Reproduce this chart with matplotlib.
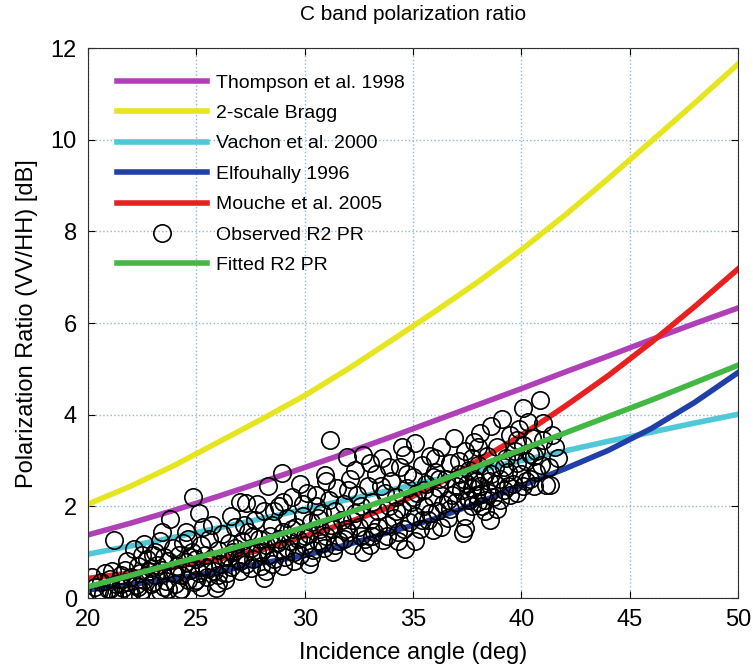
import matplotlib
matplotlib.use('Agg')
import matplotlib.pyplot as plt
import numpy as np

plt.rcParams['font.family'] = ['Liberation Sans', 'DejaVu Sans']

# model curves, every 2 deg
angle = [20, 22, 24, 26, 28, 30, 32, 34, 36, 38, 40, 42, 44, 46, 48, 50]
thompson = [1.38, 1.64, 1.92, 2.22, 2.53, 2.85, 3.18, 3.52, 3.87, 4.22, 4.57, 4.93, 5.28, 5.64, 5.99, 6.33]
bragg = [2.05, 2.45, 2.90, 3.40, 3.90, 4.42, 5.00, 5.62, 6.25, 6.90, 7.60, 8.35, 9.15, 9.97, 10.80, 11.65]
vachon = [0.96, 1.14, 1.33, 1.53, 1.73, 1.94, 2.15, 2.36, 2.58, 2.79, 3.00, 3.21, 3.42, 3.62, 3.82, 4.01]
elfouhally = [0.18, 0.30, 0.42, 0.58, 0.76, 0.93, 1.17, 1.45, 1.73, 2.08, 2.45, 2.82, 3.22, 3.70, 4.27, 4.92]
mouche = [0.43, 0.55, 0.68, 0.85, 1.05, 1.35, 1.65, 2.00, 2.45, 3.00, 3.55, 4.18, 4.85, 5.58, 6.36, 7.18]
fitted = [0.25, 0.50, 0.76, 1.00, 1.27, 1.55, 1.86, 2.18, 2.52, 2.88, 3.24, 3.60, 3.96, 4.32, 4.70, 5.08]

# observed R2 polarization ratio (circles)
obs_angle = [
    20.3, 20.5, 20.6, 20.8, 20.9, 21.0, 21.2, 21.3, 21.2, 21.4, 21.5, 21.6, 21.7, 21.8, 21.9,
    22.0, 22.1, 22.2, 22.3, 22.4, 22.5, 22.6, 22.6, 22.7, 22.8, 22.9, 23.0, 23.1, 23.1, 23.2,
    23.3, 23.4, 23.5, 23.6, 23.7, 23.8, 23.9, 23.9,
    24.0, 24.1, 24.2, 24.3, 24.4, 24.5, 24.5, 24.6, 24.7, 24.8, 24.86, 24.9, 25.0, 25.1, 25.1,
    25.2, 25.3, 25.4, 25.5, 25.6, 25.7, 25.8, 25.9, 26.0, 26.0,
    26.1, 26.2, 26.3, 26.4, 26.5, 26.6, 26.7, 26.8, 26.9, 27.0, 27.0, 27.1, 27.2, 27.3, 27.3,
    27.4, 27.5, 27.6, 27.7, 27.8, 27.9, 28.0, 28.1, 28.1, 28.2,
    28.3, 28.3, 28.4, 28.5, 28.6, 28.7, 28.8, 28.9, 28.94, 29.0, 29.1, 29.2, 29.3, 29.4, 29.5,
    29.6, 29.7, 29.78, 29.8, 29.9, 30.0, 30.1, 30.2, 30.3, 30.4, 30.5, 30.6, 30.7, 30.8, 30.9, 30.94,
    31.0, 31.1, 31.17, 31.2, 31.3, 31.4, 31.5, 31.6, 31.7, 31.8, 31.94, 32.0, 32.1, 32.2, 32.3,
    32.4, 32.5, 32.6, 32.71, 32.8, 32.9, 33.0, 33.1, 33.2, 33.3, 33.4, 33.56, 33.6, 33.7, 33.8, 33.9,
    34.0, 34.1, 34.2, 34.3, 34.4, 34.5, 34.63, 34.63, 34.7, 34.8, 34.9, 35.0, 35.1, 35.1, 35.2,
    35.3, 35.4, 35.5, 35.6, 35.7, 35.8, 35.9, 35.94, 36.0, 36.1, 36.2, 36.3, 36.4, 36.5, 36.6,
    36.7, 36.8, 36.9,
    37.0, 37.1, 37.2, 37.3, 37.4, 37.4, 37.5, 37.5, 37.6, 37.7, 37.7, 37.8, 37.8, 37.9, 38.0,
    38.0, 38.1, 38.1, 38.2, 38.3, 38.3, 38.4, 38.5, 38.55, 38.6, 38.7, 38.8, 38.9, 39.0, 39.1,
    39.2, 39.3, 39.4, 39.5, 39.6, 39.7, 39.8, 39.9, 40.0, 40.09, 40.1, 40.2, 40.3, 40.4, 40.5,
    40.6, 40.7, 40.86, 40.9, 41.01, 41.16, 41.32, 41.4, 41.55, 41.7,
    21.0, 21.5, 22.0, 22.3, 23.0, 23.5, 24.0, 24.3, 25.0, 25.5, 26.0, 26.5, 27.0, 27.5, 28.0,
    28.5, 28.8, 29.2, 29.5, 30.0, 30.3, 30.8, 31.3, 31.8, 32.2, 32.6, 33.0, 33.4, 33.8, 34.2,
    34.6, 35.0, 35.4, 35.8, 36.2, 36.6, 37.0, 37.3, 37.6, 37.9, 38.2, 38.5, 38.8, 39.0, 39.4,
    39.8, 40.2, 40.6,
    20.2, 20.7, 21.1, 21.8, 22.4, 22.9, 23.3, 23.7, 24.2, 24.7, 25.2, 25.7, 26.3, 26.8, 27.2,
    27.6, 28.2, 28.6, 29.0, 29.4, 29.9, 30.2, 30.6, 31.0, 31.4, 31.9, 32.3, 32.7, 33.1, 33.5,
    33.9, 34.3, 34.7, 35.1, 35.5, 35.9, 36.3, 36.7, 37.1, 37.4, 37.7, 38.0, 38.3, 38.6, 38.9,
    39.2, 39.5, 39.8, 40.1, 40.4, 40.7, 41.0, 41.3, 36.0, 34.5, 33.0, 32.0, 30.5, 29.0, 27.8,
    26.6, 25.3, 24.6, 23.4, 22.5,
]
obs_pr = [
    0.25, 0.15, 0.35, 0.55, 0.20, 0.42, 0.10, 0.30, 1.27, 0.05, 0.50, 0.22, 0.62, 0.35, 0.12,
    0.45, 1.08, 0.28, 0.70, 0.55, 0.18, 1.19, 0.40, 0.85, 0.60, 0.30, 0.95, 1.01, 0.50, 0.72,
    0.15, 0.62, 0.90, 0.38, 0.80, 1.72, 0.55, 1.10,
    0.30, 0.70, 0.95, 0.50, 1.20, 1.45, 0.78, 0.40, 0.62, 1.00, 2.21, 0.35, 0.85, 1.85, 0.55,
    1.15, 0.70, 0.95, 0.45, 1.30, 0.80, 0.60, 0.21, 0.32, 1.05,
    0.75, 1.40, 0.90, 0.55, 1.20, 0.68, 1.00, 1.55, 0.85, 2.10, 0.60, 1.25, 0.95, 2.07, 0.75,
    1.45, 1.10, 0.85, 1.70, 1.00, 1.30, 0.70, 0.43, 1.90, 1.15,
    2.44, 0.95, 1.35, 1.60, 0.85, 1.20, 2.00, 1.05, 2.72, 1.45, 0.90, 1.75, 1.25, 2.20, 1.00,
    1.55, 1.30, 2.50, 0.95, 1.80, 1.15, 2.30, 1.40, 1.65, 1.05, 2.00, 1.25, 1.50, 1.85, 1.10, 2.68,
    1.35, 2.15, 3.45, 1.60, 1.00, 1.90, 2.40, 1.25, 1.70, 2.05, 3.08, 1.45, 2.60, 1.15, 1.85,
    2.25, 1.55, 2.00, 3.12, 1.30, 2.45, 1.70, 2.10, 1.45, 2.70, 1.90, 3.05, 1.27, 2.30, 1.60, 2.00,
    2.55, 1.75, 2.20, 1.45, 2.85, 1.95, 1.08, 3.12, 2.40, 1.65, 2.10, 2.65, 3.38, 1.80, 2.30,
    1.50, 2.90, 2.00, 2.50, 1.70, 3.10, 2.20, 1.48, 2.75, 1.90, 2.40, 3.30, 2.05, 2.60, 1.75,
    2.95, 2.25, 3.50,
    2.10, 2.70, 2.35, 1.41, 1.52, 3.20, 2.50, 2.20, 2.80, 2.00, 2.40, 3.40, 2.60, 2.25, 2.90,
    2.10, 2.45, 3.60, 2.30, 2.70, 1.90, 3.10, 2.55, 1.70, 3.75, 2.20, 2.85, 3.30, 2.60, 3.90,
    2.35, 3.05, 2.75, 3.55, 2.50, 3.20, 2.95, 3.70, 2.70, 4.14, 3.35, 3.00, 3.85, 2.60, 3.50,
    2.45, 3.20, 4.32, 2.90, 3.81, 2.47, 2.47, 3.55, 3.30, 3.05,
    0.20, 0.30, 0.10, 0.25, 0.35, 0.25, 0.55, 0.20, 0.40, 0.65, 0.50, 0.90, 0.80, 0.65, 1.00,
    0.75, 1.30, 1.10, 0.80, 1.35, 0.90, 1.20, 1.50, 1.30, 1.70, 1.35, 1.15, 1.55, 1.35, 1.90,
    1.50, 2.20, 1.70, 1.85, 2.60, 2.15, 2.45, 2.60, 2.15, 2.55, 2.00, 2.30, 2.50, 2.15, 2.45,
    2.30, 2.55, 3.10,
    0.45, 0.10, 0.60, 0.80, 0.05, 0.65, 1.25, 0.20, 0.15, 0.90, 0.25, 1.60, 0.40, 1.10, 1.60,
    1.35, 0.60, 1.90, 0.70, 1.50, 2.05, 0.75, 1.75, 2.55, 1.15, 1.50, 2.80, 1.00, 1.35, 2.45,
    2.85, 1.25, 2.70, 1.25, 2.35, 2.65, 1.55, 1.95, 3.00, 1.80, 3.05, 3.30, 2.15, 2.70, 1.95,
    2.85, 2.25, 3.45, 2.45, 3.15, 2.75, 3.45, 2.85, 3.05, 3.30, 2.95, 2.35, 2.25, 2.10, 2.05,
    1.80, 1.55, 1.30, 1.45, 0.95,
]

fig = plt.figure(figsize=(7.53, 6.69), dpi=100)
ax = fig.add_axes([0.117, 0.106, 0.863, 0.822])

lw = 4
ax.plot(angle, thompson, color='#b040b8', lw=lw, label='Thompson et al. 1998')
ax.plot(angle, bragg, color='#e6e620', lw=lw, label='2-scale Bragg')
ax.plot(angle, vachon, color='#50c8d8', lw=lw, label='Vachon et al. 2000')
ax.plot(angle, elfouhally, color='#2040a8', lw=lw, label='Elfouhally 1996')
ax.plot(angle, mouche, color='#e82020', lw=lw, label='Mouche et al. 2005')
ax.plot(obs_angle, obs_pr, 'o', mfc='none', mec='black', ms=12.5, mew=1.2, label='Observed R2 PR')
ax.plot(angle, fitted, color='#44b844', lw=lw, label='Fitted R2 PR')

ax.set_xlim(20, 50)
ax.set_ylim(0, 12)
ax.set_xticks(range(20, 51, 5))
ax.set_yticks(range(0, 13, 2))
ax.grid(True, linestyle=':', color='#8fb8d8', lw=1)
ax.tick_params(direction='in', top=True, right=True, length=5, labelsize=17, pad=8)
for s in ax.spines.values():
    s.set_color('#303030')

ax.set_xlabel('Incidence angle (deg)', fontsize=17, labelpad=8)
ax.set_ylabel('Polarization Ratio (VV/HH) [dB]', fontsize=17, labelpad=9)
ax.set_title('C band polarization ratio', fontsize=15, pad=20)

ax.legend(loc='upper left', frameon=False, fontsize=14, handlelength=4.6,
          handletextpad=0.5, labelspacing=0.66, bbox_to_anchor=(0.018, 0.985))

fig.savefig('out.png', dpi=100)
